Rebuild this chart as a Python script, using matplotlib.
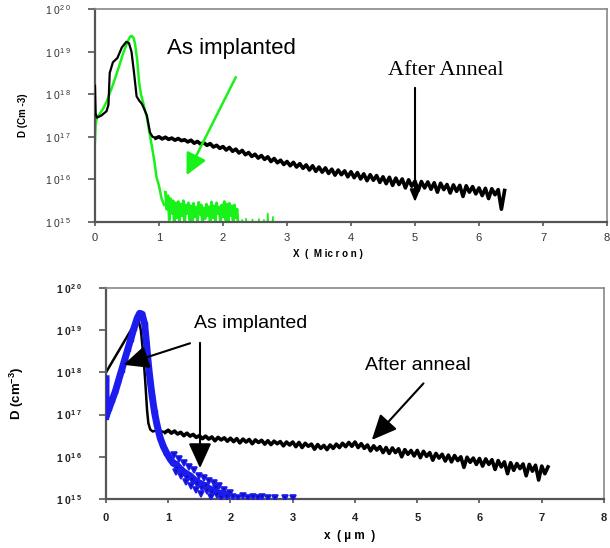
import numpy as np
import matplotlib
matplotlib.use("Agg")
import matplotlib.pyplot as plt

plt.rcParams['font.family'] = ['Liberation Sans', 'DejaVu Sans']
plt.rcParams['mathtext.fontset'] = 'custom'
plt.rcParams['mathtext.rm'] = 'Liberation Sans'
plt.rcParams['mathtext.it'] = 'Liberation Sans:italic'
plt.rcParams['mathtext.bf'] = 'Liberation Sans:bold'

# ---------------- data (log10 of D) ----------------
# Top panel: after anneal (black)
top_anneal_peak_x = [0, 0.01, 0.03, 0.10, 0.18, 0.21, 0.23, 0.28, 0.35, 0.42, 0.49, 0.53,
                     0.57, 0.61, 0.65, 0.69, 0.73, 0.77, 0.81, 0.86, 0.90, 0.95]
top_anneal_peak_y = [18.2, 17.55, 17.45, 17.5, 17.6, 17.75, 18.5, 18.75, 18.85, 19.1, 19.23, 19.2,
                     19.0, 18.5, 17.95, 17.85, 17.78, 17.65, 17.5, 17.1, 17.0, 16.97]
top_anneal_tail_x0, top_anneal_tail_dx = 1.0, 0.05
top_anneal_tail_y = [
    17.00, 16.95, 16.99, 16.94, 16.97, 16.92, 16.96, 16.91, 16.93, 16.88,
    16.92, 16.85, 16.89, 16.83, 16.86, 16.80, 16.84, 16.76, 16.80, 16.73,
    16.77, 16.69, 16.75, 16.66, 16.71, 16.62, 16.68, 16.58, 16.63, 16.54,
    16.59, 16.50, 16.56, 16.47, 16.53, 16.42, 16.49, 16.39, 16.45, 16.35,
    16.42, 16.32, 16.40, 16.29, 16.37, 16.26, 16.34, 16.22, 16.32, 16.19,
    16.29, 16.17, 16.27, 16.14, 16.24, 16.10, 16.22, 16.11, 16.20, 16.06,
    16.18, 16.04, 16.16, 16.01, 16.13, 15.97, 16.11, 15.98, 16.09, 15.93,
    16.06, 15.90, 16.05, 15.86, 16.03, 15.88, 16.01, 15.80, 15.99, 15.84,
    15.96, 15.74, 15.95, 15.80, 15.94, 15.77, 15.92, 15.70, 15.91, 15.76,
    15.88, 15.68, 15.87, 15.72, 15.86, 15.60, 15.85, 15.70, 15.83, 15.66,
    15.80, 15.62, 15.79, 15.55, 15.78, 15.64, 15.76, 15.30, 15.74]

# Top panel: as implanted (green)
top_impl_x = [0, 0.01, 0.03, 0.08, 0.13, 0.18, 0.23, 0.28, 0.34, 0.39, 0.44, 0.48, 0.52, 0.55,
              0.57, 0.60, 0.625, 0.66, 0.69, 0.72, 0.755, 0.78, 0.81, 0.85, 0.89, 0.93, 0.96,
              1.0, 1.04, 1.08]
top_impl_y = [16.9, 17.3, 17.45, 17.55, 17.67, 17.82, 18.02, 18.22, 18.49, 18.72, 18.96, 19.12,
              19.27, 19.35, 19.37, 19.33, 19.19, 18.8, 18.26, 17.98, 17.79, 17.62, 17.47, 17.1,
              16.77, 16.4, 16.06, 15.85, 15.55, 15.4]
top_impl_noise_x0, top_impl_noise_dx = 1.10, 0.02
top_impl_noise_y = [
    15.70, 15.30, 15.62, 15.05, 15.55, 15.20, 15.50, 14.90, 15.45, 15.10,
    15.48, 15.00, 15.42, 15.15, 15.50, 14.95, 15.40, 15.20, 15.45, 15.05,
    15.38, 14.90, 15.44, 15.12, 15.35, 15.00, 15.46, 15.18, 15.40, 14.95,
    15.33, 15.08, 15.42, 15.15, 15.36, 14.92, 15.47, 15.10, 15.38, 15.02,
    15.45, 15.20, 15.35, 14.95, 15.40, 15.12, 15.48, 15.05, 15.42, 14.98,
    15.44, 15.15, 15.38, 14.90, 15.40, 15.10, 15.30, 14.85]
top_impl_sparse_x = [2.26, 2.30, 2.34, 2.36, 2.40, 2.44, 2.46, 2.50, 2.54, 2.56, 2.60, 2.64,
                     2.68, 2.70, 2.72, 2.76, 2.78, 2.80]
top_impl_sparse_y = [14.6, 15.05, 14.6, 15.08, 14.6, 14.6, 15.06, 14.6, 14.6, 15.07, 14.6, 15.05,
                     14.6, 15.2, 14.6, 14.6, 15.12, 14.6]

# Bottom panel: after anneal (black)
bot_anneal_peak_x = [0, 0.10, 0.20, 0.30, 0.40, 0.47, 0.52, 0.56, 0.60, 0.63, 0.66, 0.68, 0.71,
                     0.75, 0.80, 0.90, 0.95]
bot_anneal_peak_y = [18.0, 18.25, 18.5, 18.75, 19.0, 19.2, 19.25, 19.0, 18.4, 17.8, 17.1, 16.8,
                     16.65, 16.6, 16.62, 16.6, 16.58]
bot_anneal_tail_x0, bot_anneal_tail_dx = 1.0, 0.05
bot_anneal_tail_y = [
    16.63, 16.56, 16.61, 16.54, 16.58, 16.50, 16.56, 16.49, 16.53, 16.46,
    16.50, 16.43, 16.49, 16.42, 16.47, 16.38, 16.46, 16.40, 16.45, 16.37,
    16.44, 16.36, 16.43, 16.33, 16.42, 16.35, 16.41, 16.31, 16.40, 16.34,
    16.39, 16.30, 16.38, 16.29, 16.37, 16.31, 16.36, 16.26, 16.35, 16.28,
    16.35, 16.24, 16.34, 16.22, 16.32, 16.25, 16.30, 16.18, 16.29, 16.20,
    16.27, 16.17, 16.28, 16.20, 16.30, 16.22, 16.32, 16.24, 16.34, 16.25,
    16.35, 16.22, 16.31, 16.20, 16.28, 16.14, 16.26, 16.16, 16.24, 16.10,
    16.22, 16.08, 16.21, 16.10, 16.19, 16.00, 16.17, 16.06, 16.15, 16.02,
    16.15, 15.98, 16.13, 16.01, 16.10, 15.92, 16.08, 15.97, 16.06, 15.90,
    16.04, 15.88, 16.03, 15.91, 16.00, 15.75, 15.99, 15.87, 15.97, 15.82,
    15.96, 15.78, 15.95, 15.82, 15.93, 15.70, 15.91, 15.76, 15.88, 15.60,
    15.86, 15.68, 15.84, 15.72, 15.83, 15.55, 15.82, 15.66, 15.80, 15.45,
    15.78, 15.60, 15.76]

# Bottom panel: as implanted (blue markers)
bot_impl_x = [0, 0, 0.05, 0.10, 0.15, 0.20, 0.25, 0.30, 0.35, 0.40, 0.45, 0.50, 0.54, 0.58,
              0.62, 0.65, 0.68, 0.71, 0.74, 0.78, 0.82, 0.87, 0.92, 0.97, 1.03, 1.08, 1.13,
              1.20, 1.27, 1.35, 1.42, 1.50, 1.58, 1.65, 1.72, 1.80, 1.88, 1.95]
bot_impl_y = [17.85, 16.95, 17.15, 17.35, 17.55, 17.8, 18.05, 18.3, 18.55, 18.8, 19.05, 19.28,
              19.4, 19.38, 19.15, 18.7, 18.2, 17.8, 17.45, 17.05, 16.75, 16.45, 16.25, 16.1,
              15.95, 15.85, 15.82, 15.7, 15.62, 15.55, 15.45, 15.38, 15.32, 15.25, 15.2, 15.15,
              15.12, 15.1]
bot_impl_noise_x = [1.10, 1.14, 1.18, 1.22, 1.26, 1.30, 1.34, 1.38, 1.42, 1.46, 1.50, 1.54,
                    1.58, 1.62, 1.66, 1.70, 1.74, 1.78, 1.82, 1.86, 1.90, 1.95, 2.00, 1.12,
                    1.20, 1.28, 1.36, 1.44, 1.52, 1.60, 1.68, 1.76, 1.84]
bot_impl_noise_y = [16.05, 15.72, 15.95, 15.60, 15.85, 15.50, 15.75, 15.45, 15.68, 15.35,
                    15.55, 15.25, 15.50, 15.20, 15.42, 15.15, 15.38, 15.10, 15.30, 15.08,
                    15.22, 15.05, 15.15, 15.65, 15.55, 15.40, 15.30, 15.22, 15.12, 15.30,
                    15.05, 15.25, 15.02]
bot_impl_floor_x = [2.04, 2.12, 2.20, 2.28, 2.36, 2.44, 2.51, 2.60, 2.72, 2.88, 3.01]
bot_impl_floor_y = [15.05, 15.03, 15.06, 15.02, 15.05, 15.03, 15.04, 15.02, 15.03, 15.03, 15.02]

decades = [15, 16, 17, 18, 19, 20]
xticks = [0, 1, 2, 3, 4, 5, 6, 7, 8]

GREEN = '#19f219'
BLUE = '#1c1cf0'


def pw(v):
    return np.power(10.0, np.asarray(v, dtype=float))


def grid(x0, dx, vals):
    return x0 + dx * np.arange(len(vals))


fig = plt.figure(figsize=(6.10, 5.48), dpi=100)
ax1 = fig.add_axes([95 / 610, 1 - 222 / 548, 512 / 610, 213 / 548])
ax2 = fig.add_axes([106 / 610, 1 - 499 / 548, 498 / 610, 211 / 548])

for ax in (ax1, ax2):
    ax.set_yscale('log')
    ax.set_ylim(1e15, 1e20)
    ax.set_xlim(0, 8)
    ax.minorticks_off()
    ax.set_xticks(xticks)
    ax.set_yticks(pw(decades))
    for s in ('left', 'bottom'):
        ax.spines[s].set_color('#555555')
        ax.spines[s].set_linewidth(1.6)
    for s in ('top', 'right'):
        ax.spines[s].set_color('#888888')
        ax.spines[s].set_linewidth(1.2)
    ax.tick_params(direction='out', colors='#555555', width=1.2)

# ---- top panel ----
ax1.plot(top_impl_x, pw(top_impl_y), color=GREEN, lw=1.8, zorder=2)
ax1.plot(grid(top_impl_noise_x0, top_impl_noise_dx, top_impl_noise_y), pw(top_impl_noise_y),
         color=GREEN, lw=2.0, zorder=2)
ax1.plot(top_impl_sparse_x, pw(top_impl_sparse_y), color=GREEN, lw=1.2, zorder=2)
ax1.plot(top_anneal_peak_x, pw(top_anneal_peak_y), color='black', lw=1.6, zorder=3)
ax1.plot(np.r_[top_anneal_peak_x[-1], grid(top_anneal_tail_x0, top_anneal_tail_dx, top_anneal_tail_y)],
         pw(np.r_[top_anneal_peak_y[-1], top_anneal_tail_y]), color='black', lw=2.6, zorder=3)

ax1.set_yticklabels([r'1 0$^{\mathregular{%d\ %d}}$' % (d // 10, d % 10) for d in decades],
                    fontsize=7.5, color='#333333')
ax1.set_xticklabels([str(t) for t in xticks], fontsize=8, color='#333333')
ax1.tick_params(axis='y', length=5, pad=12)
ax1.tick_params(axis='x', length=3, pad=5)
ax1.set_ylabel('D (Cm -3)', fontsize=7, fontweight='bold')
ax1.yaxis.set_label_coords(-0.131, 0.5)
ax1.set_xlabel('X  (  M ic r o n )', fontsize=7, fontweight='bold')
ax1.xaxis.set_label_coords(0.455, -0.125)

ax1.text(2.13, pw(19.08), 'As implanted', fontsize=16, ha='center', va='center')
ax1.annotate('', xy=(1.43, pw(16.10)), xytext=(2.20, pw(18.40)),
             arrowprops=dict(arrowstyle='-|>,head_length=1.0,head_width=0.5', color=GREEN,
                             lw=1.8, mutation_scale=13, shrinkA=0, shrinkB=0))
ax1.text(5.48, pw(18.55), 'After Anneal', fontsize=16, family='Liberation Serif',
         ha='center', va='center')
ax1.annotate('', xy=(5.0, pw(15.47)), xytext=(5.0, pw(18.15)),
             arrowprops=dict(arrowstyle='-|>,head_length=0.6,head_width=0.25', color='black',
                             lw=1.5, mutation_scale=12, shrinkA=0, shrinkB=0))

# ---- bottom panel ----
ax2.plot(bot_anneal_peak_x, pw(bot_anneal_peak_y), color='black', lw=1.8, zorder=2)
ax2.plot(np.r_[bot_anneal_peak_x[-1], grid(bot_anneal_tail_x0, bot_anneal_tail_dx, bot_anneal_tail_y)],
         pw(np.r_[bot_anneal_peak_y[-1], bot_anneal_tail_y]), color='black', lw=2.6, zorder=2)
ax2.plot(bot_impl_x, pw(bot_impl_y), color=BLUE, lw=5, marker='s', ms=3.5,
         mec=BLUE, mfc=BLUE, zorder=3)
ax2.plot(bot_impl_noise_x, pw(bot_impl_noise_y), ls='none', marker='v', ms=4.5,
         mec=BLUE, mfc='#1010a0', mew=1.2, zorder=3)
ax2.plot(bot_impl_floor_x, pw(bot_impl_floor_y), ls='none', marker='v', ms=4.5,
         mec=BLUE, mfc='#1010a0', mew=1.2, zorder=3)

ax2.set_yticklabels([r'1 0$^{\mathbf{%d\ %d}}$' % (d // 10, d % 10) for d in decades],
                    fontsize=7.5, fontweight='bold', color='#222222')
ax2.set_xticklabels([str(t) for t in xticks], fontsize=8, fontweight='bold', color='#222222')
ax2.tick_params(axis='y', length=5, pad=12)
ax2.tick_params(axis='x', length=3, pad=7)
ax2.set_ylabel(r'D (cm$^{\mathbf{-3}}$)', fontsize=9.5, fontweight='bold')
ax2.yaxis.set_label_coords(-0.16, 0.5)
ax2.set_xlabel('x  ( µ m  )', fontsize=8.5, fontweight='bold')
ax2.xaxis.set_label_coords(0.49, -0.145)

ax2.text(2.32, pw(19.17), 'As implanted', fontsize=14, ha='center', va='center')
ax2.annotate('', xy=(0.28, pw(18.18)), xytext=(1.35, pw(18.69)),
             arrowprops=dict(arrowstyle='-|>,head_length=1.1,head_width=0.5', color='black',
                             lw=1.5, mutation_scale=14, shrinkA=0, shrinkB=0))
ax2.annotate('', xy=(1.51, pw(15.73)), xytext=(1.51, pw(18.70)),
             arrowprops=dict(arrowstyle='-|>,head_length=1.1,head_width=0.5', color='black',
                             lw=1.5, mutation_scale=14, shrinkA=0, shrinkB=0))
ax2.text(5.01, pw(18.16), 'After anneal', fontsize=14, ha='center', va='center')
ax2.annotate('', xy=(4.27, pw(16.40)), xytext=(5.10, pw(17.74)),
             arrowprops=dict(arrowstyle='-|>,head_length=1.1,head_width=0.5', color='black',
                             lw=1.5, mutation_scale=14, shrinkA=0, shrinkB=0))

fig.savefig('out.png', dpi=100)
